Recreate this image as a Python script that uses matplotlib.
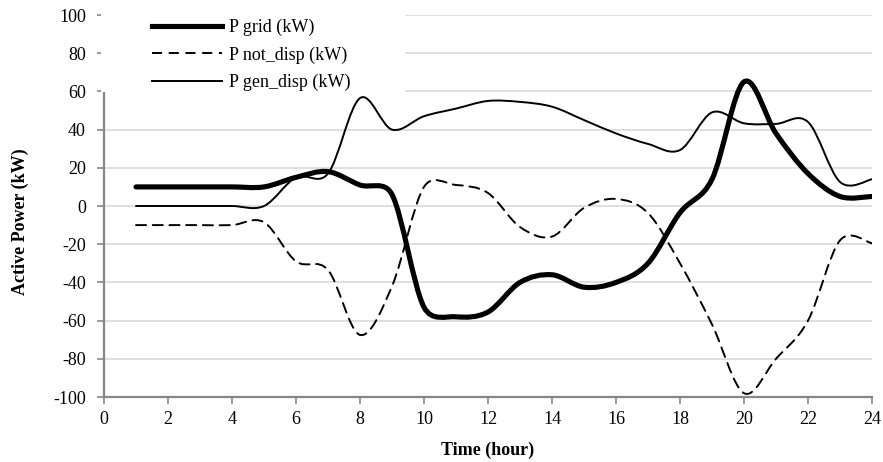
import math
import matplotlib
matplotlib.use('Agg')
import matplotlib.pyplot as plt
from matplotlib.path import Path
from matplotlib.patches import PathPatch, Rectangle
from matplotlib.lines import Line2D

hours = list(range(1, 25))
p_grid = [10, 10, 10, 10, 10, 15, 18, 11, 6, -53, -58, -55.5, -40, -36, -42.5, -40,
          -30, -3.5, 14, 65, 38, 17, 5, 5]
p_not_disp = [-10, -10, -10, -10, -8.5, -29, -33.5, -67.5, -42, 10, 11, 6.8, -11, -16, -1,
              3.7, -3.7, -30, -62, -98, -80, -60, -18, -19.5]
p_gen_disp = [0, 0, 0, 0, 0, 15, 17, 56.5, 40, 47, 51, 55, 54.5, 52, 45, 38, 32.5, 29.3,
              49, 43.3, 43, 44, 12.6, 14]
labels = ['P grid (kW)', 'P not_disp (kW)', 'P gen_disp (kW)']
xticks = list(range(0, 25, 2))
yticks = list(range(-100, 101, 20))

W, H = 883, 462
SX = 768 / 24.0   # px per hour
SY = 382 / 200.0  # px per kW


def smooth_path(xs, ys):
    """Excel-like smoothed Bezier through the points (control points in data units)."""
    pts = [(x * SX, y * SY) for x, y in zip(xs, ys)]
    n = len(pts)

    def dist(a, b):
        return math.hypot(a[0] - b[0], a[1] - b[1])

    verts = [(xs[0], ys[0])]
    codes = [Path.MOVETO]
    for i in range(n - 1):
        p0 = pts[max(i - 1, 0)]
        p1 = pts[i]
        p2 = pts[i + 1]
        p3 = pts[min(i + 2, n - 1)]
        d02, d12, d13 = dist(p0, p2), dist(p1, p2), dist(p1, p3)
        f1 = 1 / 6.0 if d02 / 6.0 < d12 / 2.0 else (d12 / (2.0 * d02) if d02 else 0)
        f2 = 1 / 6.0 if d13 / 6.0 < d12 / 2.0 else (d12 / (2.0 * d13) if d13 else 0)
        b1 = (p1[0] + (p2[0] - p0[0]) * f1, p1[1] + (p2[1] - p0[1]) * f1)
        b2 = (p2[0] - (p3[0] - p1[0]) * f2, p2[1] - (p3[1] - p1[1]) * f2)
        for p in (b1, b2, p2):
            verts.append((p[0] / SX, p[1] / SY))
            codes.append(Path.CURVE4)
    return Path(verts, codes)


plt.rcParams['font.family'] = ['Liberation Serif', 'DejaVu Serif']
plt.rcParams['axes.unicode_minus'] = False
fig = plt.figure(figsize=(W / 100, H / 100), dpi=100)
ax = fig.add_axes([104 / W, 1 - 397 / H, (872 - 104) / W, (397 - 15) / H])

styles = [
    dict(lw=3.7, ls='-'),
    dict(lw=1.4, ls=(0, (5.2, 3.4))),
    dict(lw=1.4, ls='-'),
]
series = [p_grid, p_not_disp, p_gen_disp]
handles = []
for ys, st, lab in zip(series, styles, labels):
    patch = PathPatch(smooth_path(hours, ys), fill=False, edgecolor='black',
                      lw=st['lw'], linestyle=st['ls'], capstyle='round', joinstyle='round',
                      zorder=3)
    ax.add_patch(patch)
    handles.append(Line2D([], [], color='black', lw=st['lw'], linestyle=st['ls']))

ax.set_xlim(0, 24)
ax.set_ylim(-100, 100)
ax.set_xticks(xticks)
ax.set_yticks(yticks)
ax.tick_params(labelsize=13, colors='#878787', length=5, width=1.2, direction='out')
ax.tick_params(axis='y', pad=8)
ax.tick_params(axis='x', pad=5)
for lab in ax.get_xticklabels() + ax.get_yticklabels():
    lab.set_color('black')
ax.grid(axis='y', color='#d9d9d9', lw=1.2)
ax.set_axisbelow(True)
for s in ['top', 'right']:
    ax.spines[s].set_visible(False)
for s in ['left', 'bottom']:
    ax.spines[s].set_color('#878787')
    ax.spines[s].set_linewidth(1.6)

ax.set_xlabel('Time (hour)', fontsize=13, fontweight='bold')
ax.xaxis.set_label_coords(0.5, -0.118)
ax.set_ylabel('Active Power (kW)', fontsize=13, fontweight='bold')
ax.yaxis.set_label_coords(-0.098, 0.46)

# white legend area
rect = Rectangle((101 / W, 1 - 92 / H), (405 - 101) / W, 92 / H, transform=fig.transFigure,
                 facecolor='white', edgecolor='none', zorder=4, clip_on=False)
ax.add_patch(rect)

leg = ax.legend(handles, labels, loc='upper left', bbox_to_anchor=(152 / W, 1 - 19 / H),
                bbox_transform=fig.transFigure, frameon=False, fontsize=13,
                handlelength=3.9, handletextpad=0.35, labelspacing=0.56,
                borderpad=0, borderaxespad=0)
leg.set_zorder(5)

fig.savefig('out.png', dpi=100)
